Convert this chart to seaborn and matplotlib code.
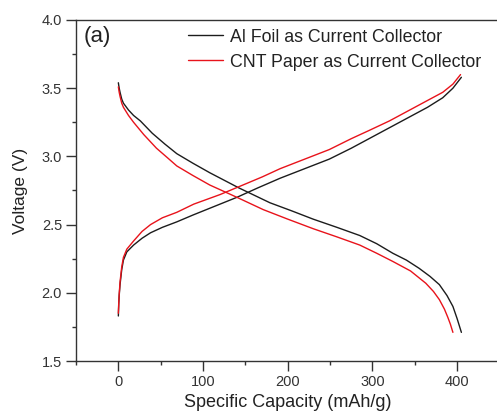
import numpy as np
import pandas as pd
import matplotlib
matplotlib.use("Agg")
import matplotlib.pyplot as plt
from matplotlib.ticker import MultipleLocator
import seaborn as sns

# Charge / discharge profiles (specific capacity in mAh/g, voltage in V)
al_charge_cap = [0, 0.5, 1, 2, 4, 6, 10, 18, 28, 38, 52, 69, 88, 108, 140, 165, 191, 220, 249, 275, 296, 320, 344, 365, 383, 395, 405]
al_charge_v = [1.83, 1.92, 1.98, 2.06, 2.17, 2.24, 2.30, 2.35, 2.40, 2.44, 2.48, 2.52, 2.57, 2.62, 2.70, 2.77, 2.84, 2.91, 2.98, 3.06, 3.13, 3.21, 3.29, 3.36, 3.43, 3.50, 3.58]

cnt_charge_cap = [0, 0.5, 1, 2, 4, 6, 10, 18, 28, 38, 52, 69, 89, 120, 147, 170, 191, 220, 249, 275, 296, 320, 344, 365, 383, 395, 404]
cnt_charge_v = [1.85, 1.93, 1.99, 2.08, 2.19, 2.26, 2.32, 2.38, 2.45, 2.50, 2.55, 2.59, 2.65, 2.72, 2.79, 2.85, 2.91, 2.98, 3.05, 3.13, 3.19, 3.26, 3.34, 3.41, 3.47, 3.53, 3.60]

al_dis_cap = [0, 1, 2, 4, 6, 12, 18, 26, 40, 55, 69, 88, 108, 142, 179, 205, 230, 258, 285, 305, 324, 340, 355, 368, 379, 388, 395, 400, 405]
al_dis_v = [3.54, 3.50, 3.47, 3.42, 3.39, 3.34, 3.30, 3.26, 3.17, 3.09, 3.02, 2.95, 2.88, 2.77, 2.66, 2.60, 2.54, 2.48, 2.42, 2.36, 2.29, 2.24, 2.18, 2.12, 2.06, 1.98, 1.90, 1.81, 1.71]

cnt_dis_cap = [0, 1, 2, 4, 6, 12, 18, 30, 45, 58, 69, 88, 108, 140, 171, 200, 230, 258, 285, 305, 324, 345, 363, 372, 379, 385, 389, 392, 395]
cnt_dis_v = [3.51, 3.47, 3.44, 3.39, 3.36, 3.30, 3.25, 3.16, 3.06, 2.99, 2.93, 2.86, 2.79, 2.70, 2.61, 2.54, 2.47, 2.41, 2.35, 2.29, 2.23, 2.16, 2.07, 2.01, 1.95, 1.88, 1.82, 1.77, 1.71]

labels = ["Al Foil as Current Collector", "CNT Paper as Current Collector"]
colors = ["#1c1c1c", "#e8131b"]

frames = []
for lab, branch, cap, v in [
    (labels[0], "charge", al_charge_cap, al_charge_v),
    (labels[0], "discharge", al_dis_cap, al_dis_v),
    (labels[1], "charge", cnt_charge_cap, cnt_charge_v),
    (labels[1], "discharge", cnt_dis_cap, cnt_dis_v),
]:
    frames.append(pd.DataFrame({"collector": lab, "branch": branch,
                                "capacity": cap, "voltage": v}))
df = pd.concat(frames, ignore_index=True)

sns.set_style("ticks")
plt.rcParams["font.family"] = ["Liberation Sans", "DejaVu Sans"]

fig = plt.figure(figsize=(4.97, 4.15), dpi=100)
ax = fig.add_axes([76 / 497, 54 / 415, 423.5 / 497, 341 / 415])

for lab, col in zip(labels, colors):
    for branch in ["charge", "discharge"]:
        sub = df[(df.collector == lab) & (df.branch == branch)]
        sns.lineplot(data=sub, x="capacity", y="voltage", sort=False,
                     estimator=None, color=col, lw=1.0, ax=ax,
                     label=lab if branch == "charge" else None, legend=False)

ax.set_xlim(-50, 450)
ax.set_ylim(1.5, 4.0)
ax.xaxis.set_major_locator(MultipleLocator(100))
ax.xaxis.set_minor_locator(MultipleLocator(50))
ax.yaxis.set_major_locator(MultipleLocator(0.5))
ax.yaxis.set_minor_locator(MultipleLocator(0.25))
ax.tick_params(which="major", direction="out", length=7, width=1.0,
               color="#333333", labelsize=10.5, labelcolor="#333333", pad=3)
ax.tick_params(which="minor", direction="out", length=3, width=1.0,
               color="#333333")
for s in ax.spines.values():
    s.set_color("#333333")
    s.set_linewidth(1.0)

ax.set_xlabel("Specific Capacity (mAh/g)", fontsize=13, color="#222222", labelpad=4)
ax.set_ylabel("Voltage (V)", fontsize=12.5, color="#222222", labelpad=10)

ax.text(0.018, 0.982, "(a)", transform=ax.transAxes, fontsize=16,
        va="top", ha="left", color="#222222")

leg = ax.legend(loc="upper left", bbox_to_anchor=(0.264, 0.975), frameon=False,
                fontsize=12.8, handlelength=2.0, handletextpad=0.4,
                labelspacing=0.45, borderpad=0, borderaxespad=0)
for t in leg.get_texts():
    t.set_color("#222222")

fig.savefig("out.png", dpi=100)
